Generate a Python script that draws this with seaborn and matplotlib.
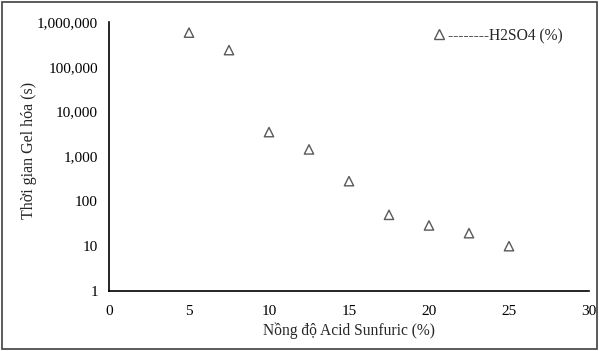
import matplotlib
matplotlib.use("Agg")
import matplotlib.pyplot as plt
import matplotlib.ticker as mticker
from matplotlib.patches import Rectangle
import seaborn as sns
import pandas as pd

# Data
concentration = [5, 7.5, 10, 12.5, 15, 17.5, 20, 22.5, 25]
gel_time = [580000, 236000, 3500, 1440, 282, 50, 29, 19.5, 10]
series_label = "--------H2SO4 (%)"
x_label = "Nồng độ Acid Sunfuric (%)"
y_label = "Thời gian Gel hóa (s)"
x_ticks = [0, 5, 10, 15, 20, 25, 30]
y_ticks = [1, 10, 100, 1000, 10000, 100000, 1000000]

sns.set_theme(style="white")
plt.rcParams['font.family'] = ['Liberation Serif', 'DejaVu Serif']

df = pd.DataFrame({"x": concentration, "y": gel_time, "s": series_label})

fig = plt.figure(figsize=(5.99, 3.51), dpi=100)
ax = fig.add_axes([109/599, 1-291/351, (589-109)/599, (291-22)/351])

sns.scatterplot(data=df, x="x", y="y", hue="s", palette=["#595959"],
                marker="^", s=45, facecolors="none", edgecolor="#595959",
                linewidth=1.0, ax=ax, legend=False)
for coll in ax.collections:
    coll.set_facecolor("none")
    coll.set_edgecolor("#595959")

ax.set_yscale("log")
ax.set_xlim(0, 30)
ax.set_ylim(1, 1000000)
ax.set_xticks(x_ticks)
ax.set_yticks(y_ticks)
ax.yaxis.set_major_formatter(mticker.FuncFormatter(lambda v, p: f"{int(round(v)):,}"))
ax.yaxis.set_minor_locator(mticker.NullLocator())
ax.tick_params(axis="both", direction="in", length=3, width=1, colors="black",
               labelsize=11)
ax.tick_params(axis="y", pad=8)
ax.tick_params(axis="x", pad=10)
for side in ["top", "right"]:
    ax.spines[side].set_visible(False)
for side in ["left", "bottom"]:
    ax.spines[side].set_color("black")
    ax.spines[side].set_linewidth(1.2)

ax.set_xlabel(x_label, fontsize=11.2, labelpad=3)
ax.set_ylabel(y_label, fontsize=11.5)
ax.yaxis.set_label_coords(-(109 - 37) / 480, (291 - 150) / 269)

handle = plt.Line2D([], [], marker="^", linestyle="none", markersize=7,
                    markerfacecolor="none", markeredgecolor="#595959")
ax.legend([handle], [series_label], loc="upper right", frameon=False,
          fontsize=11.2, handletextpad=0.0, handlelength=1.2,
          bbox_to_anchor=(0.975, 1.03))

fig.patches.append(Rectangle((0.004, 0.006), 0.992, 0.988, transform=fig.transFigure,
                             fill=False, edgecolor="#404040", linewidth=1.2))

fig.savefig("out.png", dpi=100)
